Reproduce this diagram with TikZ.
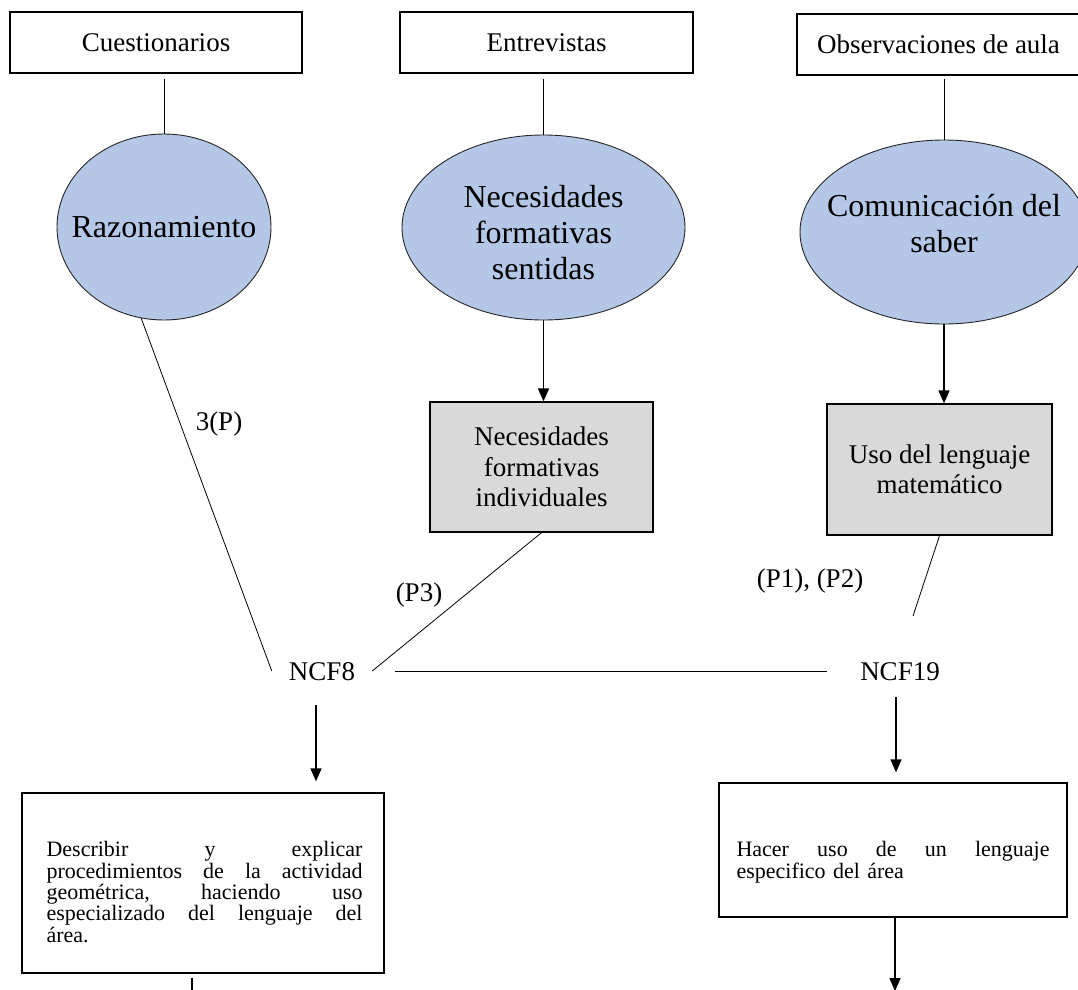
\documentclass[tikz,border=0pt]{standalone}
\usepackage{fontspec}
\setmainfont{Liberation Serif}
\usetikzlibrary{shapes.geometric, arrows.meta, positioning}
\definecolor{cBlue}{RGB}{180,199,231}
\definecolor{cGray}{RGB}{217,217,217}
\tikzset{
	srcbox/.style ={rectangle, draw=black, line width=1.2pt, minimum height=61pt, inner sep=0pt, font=\fontsize{27}{30}\selectfont},
	catell/.style ={ellipse, draw=black!85, line width=0.9pt, fill=cBlue, inner sep=0pt},
	cattxt/.style ={inner sep=0pt, align=center, font=\fontsize{32}{36}\selectfont},
	subbox/.style ={rectangle, draw=black, line width=1.3pt, fill=cGray, inner sep=0pt, align=center, font=\fontsize{27}{30.5}\selectfont},
	resbox/.style ={rectangle, draw=black, line width=1.3pt, inner sep=0pt},
	restxt/.style ={inner sep=0pt, anchor=north west, align=left, font=\fontsize{22}{21.3}\selectfont},
	ncf/.style    ={inner xsep=17pt, inner ysep=4pt, text height=18pt, text depth=0pt, font=\fontsize{27}{30}\selectfont},
	lbl/.style    ={inner sep=0pt, font=\fontsize{27}{30}\selectfont},
	link/.style   ={line width=0.8pt},
	arr/.style    ={-{Triangle[length=13pt, width=11pt]}, line width=1.6pt},
}
% one justified line of a text box
\newcommand{\jline}[2]{\makebox[#1]{#2}}

\begin{document}
\begin{tikzpicture}[x=1pt, y=-1pt]
	\useasboundingbox (0,0) rectangle (1078,989);
	\clip (0,0) rectangle (1078,989);
	% sources
	\node[srcbox, minimum width=292pt] (cuest) at (156,42.5) {Cuestionarios};
	\node[srcbox, minimum width=293pt] (entr) at (546.5,42.5) {Entrevistas};
	\node[srcbox, minimum width=283pt] (obs) at (938.5,44.5) {Observaciones de aula};
	% categories
	\node[catell, minimum width=214pt, minimum height=186pt] (razon) at (164,227) {};
	\node[catell, minimum width=283pt, minimum height=185pt] (sent) at (543.5,227.5) {};
	\node[catell, minimum width=288pt, minimum height=184pt] (comu) at (944,232) {};
	\node[cattxt] (razontxt) at (razon.center) {Razonamiento};
	\node[cattxt] (senttxt) at ([yshift=-5pt]sent.center) {Necesidades\\formativas\\sentidas};
	\node[cattxt] (comutxt) at ([yshift=8pt]comu.center) {Comunicación del\\saber};
	\draw[link, shorten >=5pt] (razon.north) -- (razon.north |- cuest.south);
	\draw[link, shorten >=5pt] (sent.north) -- (sent.north |- entr.south);
	\draw[link, shorten >=3pt] (comu.north) -- (comu.north |- obs.south);
	% subcategories
	\node[subbox, minimum width=223pt, minimum height=130pt] (ind) at (541.5,467) {Necesidades\\formativas\\individuales};
	\node[subbox, minimum width=225pt, minimum height=131pt] (uso) at (939.5,469.5) {Uso del lenguaje\\matemático};
	\draw[arr] (sent.south) -- (sent.south |- ind.north);
	\draw[arr] (comu.south) -- (comu.south |- uso.north);
	% codes
	\node[ncf] (ncf8) at (322,671) {NCF8};
	\node[ncf] (ncf19) at (900,671) {NCF19};
	\coordinate (usoend) at (913,616);
	\draw[link] (razon.256) -- (ncf8.west);
	\draw[link] (ind.south) -- (ncf8.east);
	\draw[link] (uso.south) -- (usoend);
	\draw[link, shorten <=23pt, shorten >=16pt] (ncf8.east) -- (ncf19.west);
	\node[lbl] (lp) at (219,424) {3(P)};
	\node[lbl] (lp3) at (419,595) {(P3)};
	\node[lbl] (lp12) at (810,581) {(P1), (P2)};
	% results
	\node[resbox, minimum width=362pt, minimum height=180pt] (desc) at (203,883) {};
	\node[restxt, text width=316pt] (desctxt) at ([xshift=25pt, yshift=-49pt]desc.north west)
		{\jline{316pt}{Describir\hfill y\hfill explicar}\\
		 \jline{316pt}{procedimientos\hfill de\hfill la\hfill actividad}\\
		 \jline{316pt}{geométrica,\hfill haciendo\hfill uso}\\
		 \jline{316pt}{especializado\hfill del\hfill lenguaje\hfill del}\\
		 área.};
	\node[resbox, minimum width=348pt, minimum height=134pt] (hacer) at (893,850) {};
	\node[restxt, text width=313pt] (hacertxt) at ([xshift=18pt, yshift=-59pt]hacer.north west)
		{\jline{313pt}{Hacer\hfill uso\hfill de\hfill un\hfill lenguaje}\\
		 especifico del área};
	\draw[arr, shorten <=21pt, shorten >=11pt] ([xshift=-6pt]ncf8.south) -- ([xshift=-6pt]ncf8.south |- desc.north);
	\draw[arr, shorten <=13pt, shorten >=10pt] ([xshift=-4pt]ncf19.south) -- ([xshift=-4pt]ncf19.south |- hacer.north);
	\coordinate (descout) at (192,995);
	\coordinate (hacerout) at (895,991);
	\draw[link, line width=1.3pt, shorten <=4pt] ([xshift=-11pt]desc.south) -- (descout);
	\draw[arr] ([xshift=2pt]hacer.south) -- (hacerout);
\end{tikzpicture}
\end{document}
